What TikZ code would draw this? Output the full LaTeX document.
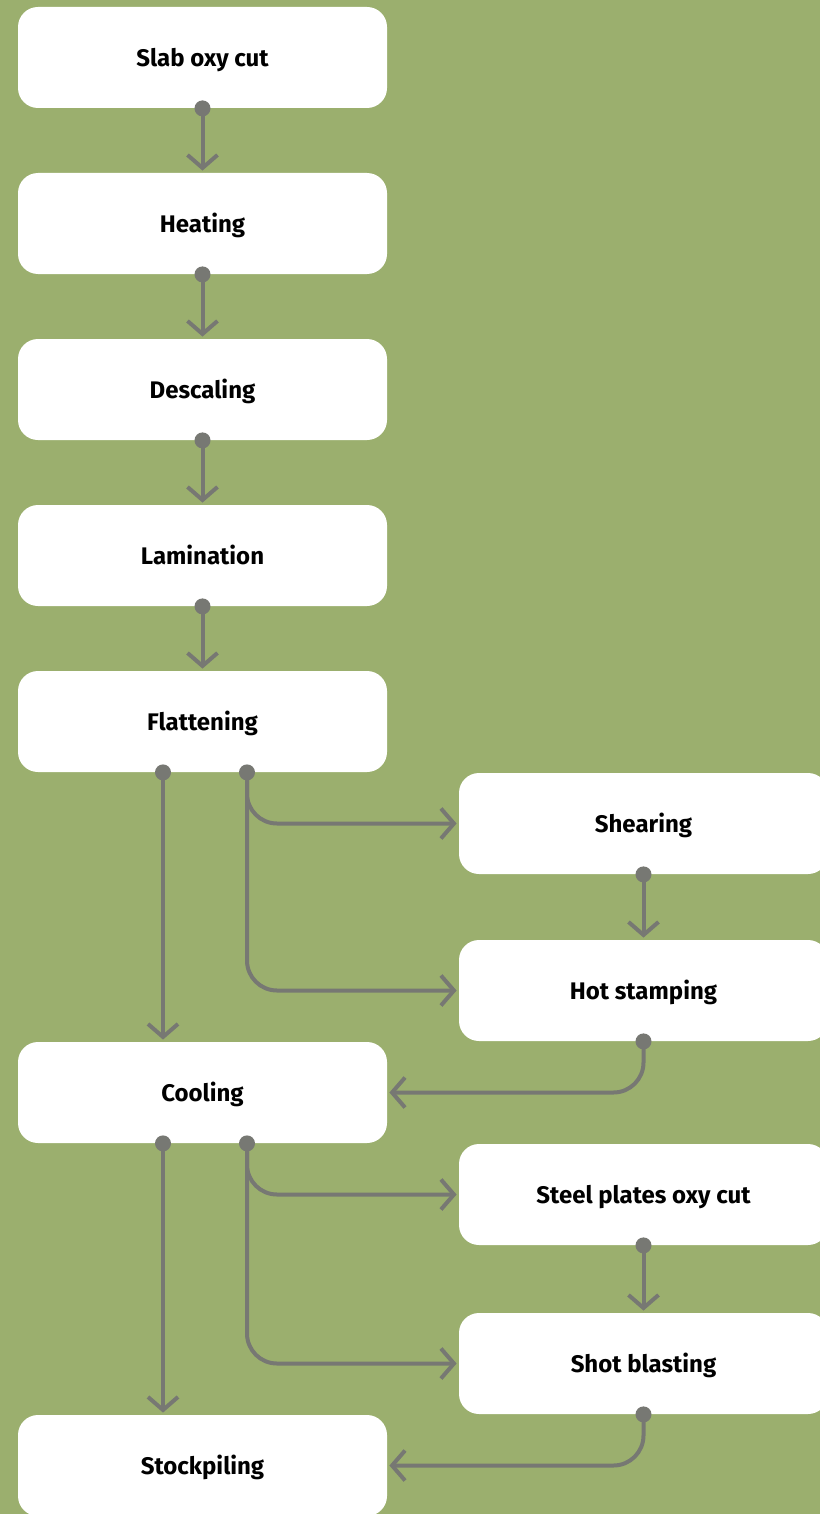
\documentclass[tikz,border=0pt]{standalone}
\usepackage{fontspec}
\setmainfont{Fira Sans}
\usetikzlibrary{arrows.meta}
\definecolor{sage}{HTML}{9BAF6E}
\definecolor{wire}{HTML}{777873}
\tikzset{
  stage/.style={fill=white, rounded corners=10pt, minimum width=184.5pt, minimum height=50.5pt, inner sep=0pt, text height=9.3pt, text depth=0pt, font=\bfseries\fontsize{12}{14}\selectfont},
  flow/.style={wire, line width=2pt, -{Straight Barb[length=6.5pt,width=15pt]}, shorten >=1pt},
  turn/.style={flow, rounded corners=15pt},
}
\newcommand{\pin}[1]{\fill[wire] (#1) circle (4pt);}

\begin{document}
\begin{tikzpicture}[x=0.5pt, y=-0.5pt]
	\fill[sage] (0,0) rectangle (820,1514);
	\useasboundingbox (0,0) rectangle (820,1514);
	\clip (0,0) rectangle (820,1514);
	% main line
	\node[stage] (slab) at (202.5,57.5) {Slab oxy cut};
	\node[stage] (heat) at (202.5,223.5) {Heating};
	\node[stage] (desc) at (202.5,389.5) {Descaling};
	\node[stage] (lam) at (202.5,555.5) {Lamination};
	\node[stage] (flat) at (202.5,721.5) {Flattening};
	\node[stage] (cool) at (202.5,1092.5) {Cooling};
	\node[stage] (stock) at (202.5,1465.5) {Stockpiling};
	% side line
	\node[stage] (shear) at (643.5,823.5) {Shearing};
	\node[stage] (hot) at (643.5,990.5) {Hot stamping};
	\node[stage] (oxy) at (643.5,1194.5) {Steel plates oxy cut};
	\node[stage] (shot) at (643.5,1363.5) {Shot blasting};
	\foreach \a/\b in {slab/heat, heat/desc, desc/lam, lam/flat, shear/hot, oxy/shot} {
		\draw[flow] (\a.south) -- (\b.north);
		\pin{\a.south}
	}
	\coordinate (flatL) at ([xshift=-19.75pt]flat.south);
	\coordinate (flatR) at ([xshift=22.25pt]flat.south);
	\coordinate (coolL) at ([xshift=-19.75pt]cool.south);
	\coordinate (coolR) at ([xshift=22.25pt]cool.south);
	\draw[flow] (flatL) -- (flatL |- cool.north);
	\draw[turn] (flatR) |- (shear.west);
	\draw[turn] (flatR) |- (hot.west);
	\draw[turn] (hot.south) |- (cool.east);
	\draw[flow] (coolL) -- (coolL |- stock.north);
	\draw[turn] (coolR) |- (oxy.west);
	\draw[turn] (coolR) |- (shot.west);
	\draw[turn] (shot.south) |- (stock.east);
	\pin{flatL} \pin{flatR} \pin{coolL} \pin{coolR} \pin{hot.south} \pin{shot.south}
\end{tikzpicture}
\end{document}
